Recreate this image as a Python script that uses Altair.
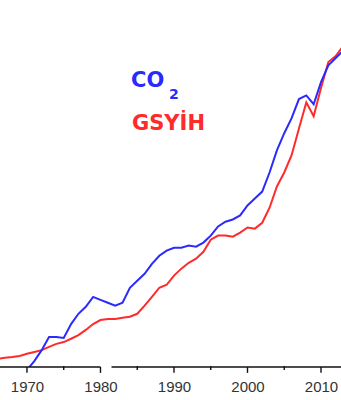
import altair as alt
import pandas as pd

# CO2 index (blue)
co2_years = list(range(1970, 2014))
co2_vals = [-0.8, 1.6, 4.6, 8.2, 8.2, 7.9, 11.7, 14.5, 16.4, 19.1,
            18.3, 17.5, 16.7, 17.5, 21.6, 23.5, 25.4, 28.1, 30.3, 31.7,
            32.5, 32.5, 33.1, 32.8, 33.9, 35.8, 38.3, 39.6, 40.2, 41.3,
            44.0, 45.9, 47.8, 53.0, 59.0, 63.7, 67.8, 73.0, 74.0, 71.6,
            77.6, 82.2, 84.2, 86.1]

# GDP (GSYİH) index (red)
gdp_years = list(range(1966, 2014))
gdp_vals = [2.2, 2.5, 2.7, 3.0, 3.6, 4.1, 4.6, 5.5, 6.3, 6.8,
            7.7, 8.7, 10.1, 11.7, 12.8, 13.1, 13.1, 13.4, 13.7, 14.5,
            16.7, 19.1, 21.6, 22.4, 24.9, 26.8, 28.4, 29.5, 31.4, 34.7,
            35.8, 35.8, 35.5, 36.6, 38.0, 37.7, 39.3, 43.4, 49.2, 53.0,
            57.7, 65.0, 72.1, 68.3, 76.0, 83.1, 84.7, 87.4]

major_years = [1970, 1980, 1990, 2000, 2010]
minor_years = [1975, 1985, 1995, 2005]
axis_seg_start = [1966.33, 1981.5]
axis_seg_end = [1980.0, 2012.72]

BLUE = "#2a2aff"
RED = "#ff2a2a"

co2_df = pd.DataFrame({"year": co2_years, "value": co2_vals})
gdp_df = pd.DataFrame({"year": gdp_years, "value": gdp_vals})
seg_df = pd.DataFrame({"x": axis_seg_start, "x2": axis_seg_end})
major_df = pd.DataFrame({"year": major_years})
minor_df = pd.DataFrame({"year": minor_years})

xscale = alt.Scale(domain=[1966.33, 2012.72], nice=False, zero=False)
yscale = alt.Scale(domain=[0, 100], nice=False, zero=False)

major_axis = alt.Axis(
    values=major_years,
    orient="bottom",
    title=None,
    domain=False,
    grid=False,
    format="d",
    ticks=False,
    labelFont="Liberation Sans",
    labelFontSize=15,
    labelColor="#333333",
    labelPadding=12,
    labelFlush=False,
    labelOverlap=False,
)

gdp_line = alt.Chart(gdp_df).mark_line(color=RED, strokeWidth=2, clip=True).encode(
    x=alt.X("year:Q", scale=xscale, axis=major_axis),
    y=alt.Y("value:Q", scale=yscale, axis=None),
)
co2_line = alt.Chart(co2_df).mark_line(color=BLUE, strokeWidth=2, clip=True).encode(
    x=alt.X("year:Q", scale=xscale),
    y=alt.Y("value:Q", scale=yscale),
)

axis_line = alt.Chart(seg_df).mark_rule(color="#111111", strokeWidth=1.4).encode(
    x=alt.X("x:Q", scale=xscale),
    x2="x2:Q",
    y=alt.datum(0),
)

major_ticks = alt.Chart(major_df).mark_rule(color="#111111", strokeWidth=1.4).encode(
    x=alt.X("year:Q", scale=xscale),
    y=alt.datum(0),
    y2=alt.datum(-1.6),
)
minor_ticks = alt.Chart(minor_df).mark_rule(color="#111111", strokeWidth=1.4).encode(
    x=alt.X("year:Q", scale=xscale),
    y=alt.datum(0.3),
    y2=alt.datum(-0.8),
)

co_text = alt.Chart(pd.DataFrame({"t": ["CO"]})).mark_text(
    font="DejaVu Sans", fontWeight="bold", fontSize=21, color=BLUE,
    align="left", baseline="alphabetic",
).encode(text="t:N", x=alt.value(131), y=alt.value(87))

sub_text = alt.Chart(pd.DataFrame({"t": ["2"]})).mark_text(
    font="DejaVu Sans", fontWeight="bold", fontSize=14, color=BLUE,
    align="left", baseline="alphabetic",
).encode(text="t:N", x=alt.value(169), y=alt.value(99))

gdp_text = alt.Chart(pd.DataFrame({"t": ["GSYİH"]})).mark_text(
    font="DejaVu Sans", fontWeight="bold", fontSize=21, color=RED,
    align="left", baseline="alphabetic",
).encode(text="t:N", x=alt.value(132), y=alt.value(130))

chart = alt.layer(
    gdp_line, co2_line, axis_line, major_ticks, minor_ticks, co_text, sub_text, gdp_text
).properties(
    width=341, height=367,
    background="white",
    autosize=alt.AutoSizeParams(type="none"),
    padding={"left": 0, "top": 0, "right": 0, "bottom": 33},
).configure_view(stroke=None)

chart.save("out.html", embed_options={"renderer": "svg", "actions": False})
